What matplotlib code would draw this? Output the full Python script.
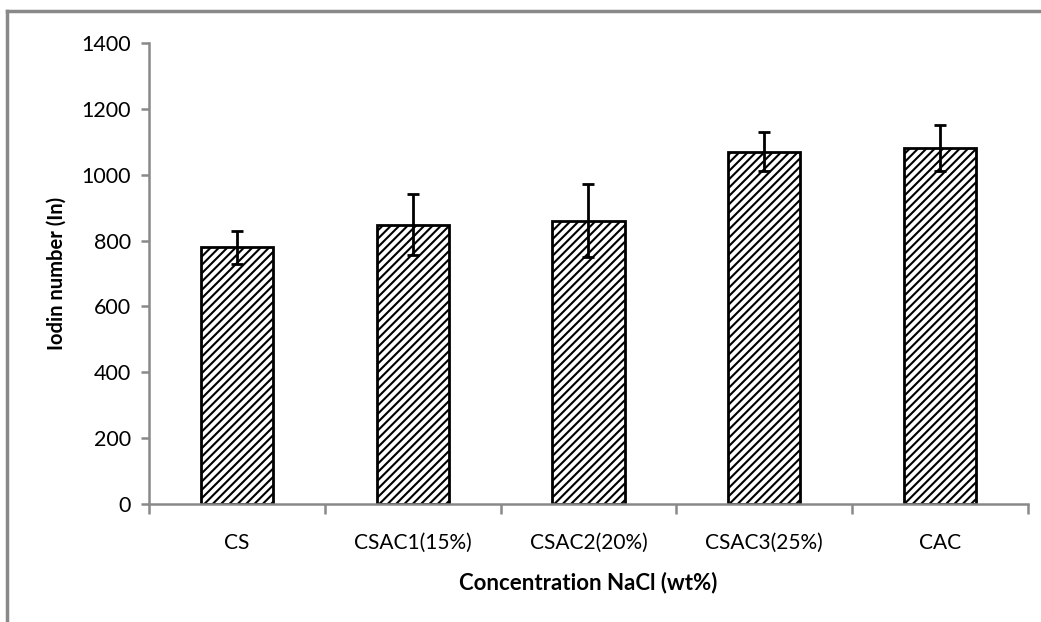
import numpy as np
import matplotlib
matplotlib.use('Agg')
import matplotlib.pyplot as plt
from matplotlib.lines import Line2D

plt.rcParams['font.family'] = ['Lato', 'DejaVu Sans']
plt.rcParams['hatch.linewidth'] = 1.5
plt.rcParams['hatch.color'] = 'black'

categories = ['CS', 'CSAC1(15%)', 'CSAC2(20%)', 'CSAC3(25%)', 'CAC']
iodine = [780, 848, 860, 1070, 1080]
errors = [50, 92, 111, 60, 70]
yticks = [0, 200, 400, 600, 800, 1000, 1200, 1400]

axis_gray = '#898989'

fig = plt.figure(figsize=(10.41, 6.22), dpi=100)
ax = fig.add_axes([0.1431, 0.1897, 0.8444, 0.7412])

x = np.arange(len(categories))
ax.bar(x, iodine, width=0.41, color='white', edgecolor='black', linewidth=2,
       hatch='////', zorder=2)
ax.errorbar(x, iodine, yerr=errors, fmt='none', ecolor='black', elinewidth=2,
            capsize=4.5, capthick=2, zorder=3)

ax.set_xlim(-0.5, len(categories) - 0.5)
ax.set_ylim(0, 1400)
ax.set_yticks(yticks)
ax.set_xticks(x)
ax.set_xticklabels(categories)
ax.set_xticks(np.arange(-0.5, len(categories), 1.0), minor=True)

for s in ['top', 'right']:
    ax.spines[s].set_visible(False)
for s in ['left', 'bottom']:
    ax.spines[s].set_color(axis_gray)
    ax.spines[s].set_linewidth(1.8)

ax.tick_params(axis='y', length=6, width=1.8, color=axis_gray, labelsize=15.5, pad=7)
ax.tick_params(axis='x', which='major', length=0, labelsize=15, pad=21)
ax.tick_params(axis='x', which='minor', length=7, width=1.8, color=axis_gray)

ax.set_ylabel('Iodin number (In)', fontsize=14.5, fontweight='bold')
ax.set_xlabel('Concentration NaCl (wt%)', fontsize=16, fontweight='bold')
ax.yaxis.set_label_coords(-0.105, 0.5)
ax.xaxis.set_label_coords(0.5, -0.171)
ax.xaxis.label.set_va('center')
ax.yaxis.label.set_va('center')

# outer frame (partly cropped in the original)
fig.add_artist(Line2D([7 / 1041, 1], [1 - 11 / 622, 1 - 11 / 622],
                      transform=fig.transFigure, color=axis_gray, linewidth=2.5))
fig.add_artist(Line2D([7 / 1041, 7 / 1041], [0, 1 - 11 / 622],
                      transform=fig.transFigure, color=axis_gray, linewidth=2.5))

fig.savefig('out.png', dpi=100)
